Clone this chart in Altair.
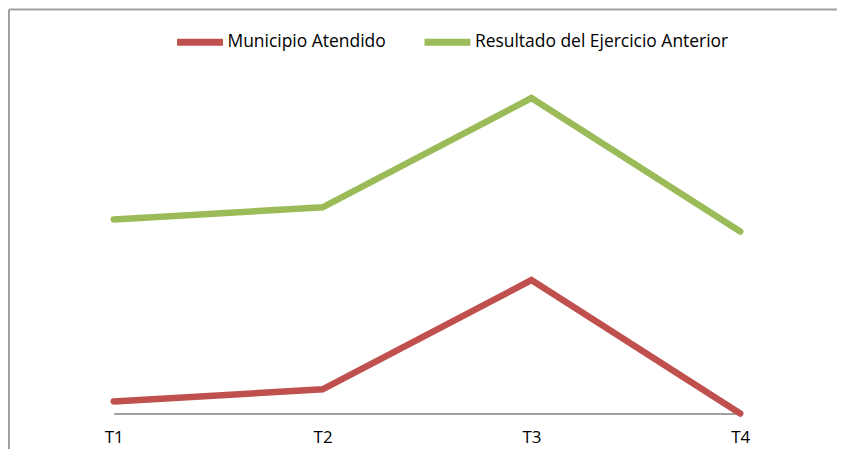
import altair as alt
import pandas as pd

periodos = ["T1", "T2", "T3", "T4"]
series = ["Municipio Atendido", "Resultado del Ejercicio Anterior"]
municipio = [1, 2, 11, 0]
anterior = [16, 17, 26, 15]
colores = ["#C0504D", "#9BBB59"]

rows = []
for p, v in zip(periodos, municipio):
    rows.append({"periodo": p, "serie": series[0], "valor": v})
for p, v in zip(periodos, anterior):
    rows.append({"periodo": p, "serie": series[1], "valor": v})
df = pd.DataFrame(rows)

FONT = "Open Sans"
GRIS = "#A0A0A0"
W, H = 830, 405

lines = alt.Chart(df).mark_line(strokeWidth=6.5, strokeCap="round", strokeJoin="miter").encode(
    x=alt.X("periodo:O", sort=periodos,
            scale=alt.Scale(type="point", padding=0, range=[105, 733]),
            axis=alt.Axis(title=None, labelAngle=0, domain=True, domainColor=GRIS, domainWidth=2,
                          ticks=False, grid=False,
                          labelFont=FONT, labelFontSize=17, labelColor="#000000",
                          labelPadding=16)),
    y=alt.Y("valor:Q", scale=alt.Scale(domain=[0, 33.3], nice=False, zero=True), axis=None),
    color=alt.Color("serie:N", sort=series,
                    scale=alt.Scale(domain=series, range=colores),
                    legend=alt.Legend(title=None, orient="none", legendX=165, legendY=6,
                                      direction="horizontal", symbolType="stroke",
                                      symbolStrokeWidth=7, symbolSize=2116,
                                      labelFont=FONT, labelFontSize=17.5, labelColor="#000000",
                                      labelOffset=1, columnPadding=24, padding=0,
                                      labelLimit=400)),
)

one = pd.DataFrame({"a": [0]})
top_edge = alt.Chart(one).mark_rule(color=GRIS, strokeWidth=2).encode(
    x=alt.value(0), x2=alt.value(W), y=alt.value(0)
)
left_edge = alt.Chart(one).mark_rule(color=GRIS, strokeWidth=2).encode(
    x=alt.value(0), y=alt.value(0), y2=alt.value(445)
)

chart = alt.layer(lines, top_edge, left_edge).properties(
    width=W, height=H, background="white",
    padding={"left": 0, "top": 0, "right": 0, "bottom": 0}
).configure_view(stroke=None, strokeWidth=0)

chart.save("out.html", embed_options={"renderer": "svg", "actions": False})
